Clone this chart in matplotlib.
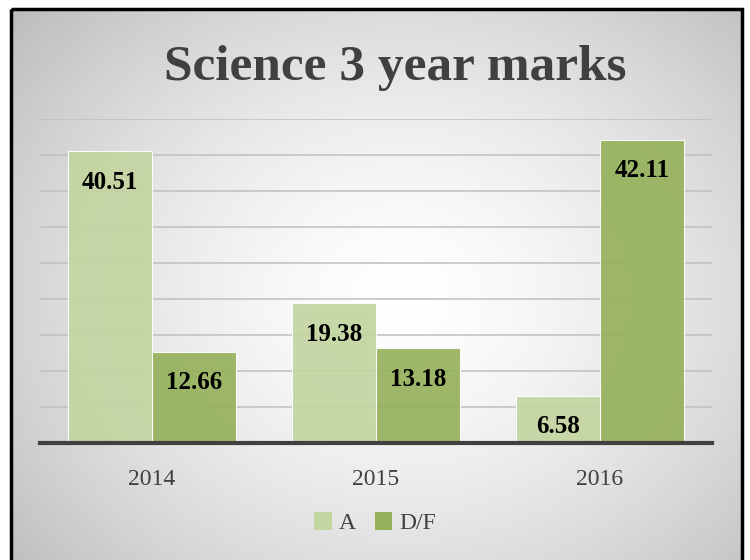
import numpy as np
import matplotlib
matplotlib.use("Agg")
import matplotlib.pyplot as plt
from matplotlib.patches import Rectangle, Patch

years = ["2014", "2015", "2016"]
grade_a = [40.51, 19.38, 6.58]
grade_df = [12.66, 13.18, 42.11]
series_names = ["A", "D/F"]
colors = ["#c3d5a0", "#95b15c"]

W, H = 750, 560
fig = plt.figure(figsize=(W / 100, H / 100), dpi=100)

# background: radial grey-to-white gradient inside a black frame
bg = fig.add_axes([0, 0, 1, 1], zorder=0)
bg.set_xlim(0, W)
bg.set_ylim(H, 0)
bg.axis("off")
yy, xx = np.mgrid[0:H, 0:W]
r = np.sqrt(((xx - 400) / 470.0) ** 2 + ((yy - 290) / 390.0) ** 2)
shade = 1.0 - 0.22 * np.clip(r, 0, 1.3) ** 1.5
img = np.dstack([shade] * 3)
bg.imshow(img, extent=(11, 742, H + 5, 9), aspect="auto", zorder=0)
bg.add_patch(Rectangle((11, 9), 731, H, fill=False, edgecolor="black", lw=2.5, zorder=2))

bg.text(395, 68, "Science 3 year marks", ha="center", va="center",
        fontsize=37, fontweight="bold", family="Liberation Serif", color="#404040")

ax = fig.add_axes([40 / W, 1 - 443 / H, 672 / W, (443 - 119) / H], zorder=1)
ax.patch.set_alpha(0)
x = np.arange(len(years))
bw = 0.375
for i, (vals, name) in enumerate(zip([grade_a, grade_df], series_names)):
    bars = ax.bar(x + (i - 0.5) * bw, vals, bw, color=colors[i], alpha=0.92,
                  edgecolor="white", linewidth=0.8, label=name, zorder=2)
    for b, v in zip(bars, vals):
        ax.annotate(f"{v:.2f}", (b.get_x() + b.get_width() / 2, v), xytext=(0, -14),
                    textcoords="offset points", ha="center", va="top",
                    fontsize=18, fontweight="bold", family="Liberation Serif",
                    color="black", zorder=3)

ax.set_xlim(-0.5, 2.5)
ax.set_ylim(0, 45)
ax.set_yticks(np.arange(5, 46, 5))
ax.yaxis.grid(True, color="#bfbfbf", lw=1.1, zorder=0)
ax.tick_params(axis="y", left=False, labelleft=False)
ax.set_xticks(x)
ax.set_xticklabels(years, fontsize=17, family="Liberation Serif", color="#404040")
ax.tick_params(axis="x", length=0, pad=19)
for s in ["top", "right", "left"]:
    ax.spines[s].set_visible(False)
ax.spines["bottom"].set_color("#404040")
ax.spines["bottom"].set_linewidth(3)
ax.spines["bottom"].set_zorder(4)

handles = [Patch(facecolor=c, edgecolor="none") for c in colors]
fig.legend(handles, series_names, loc="center", bbox_to_anchor=(375 / W, 1 - 523 / H),
           ncol=2, frameon=False, handlelength=0.75, handleheight=0.8,
           handletextpad=0.3, columnspacing=0.8,
           prop={"family": "Liberation Serif", "size": 17}, labelcolor="#404040")

fig.savefig("out.png", dpi=100)
